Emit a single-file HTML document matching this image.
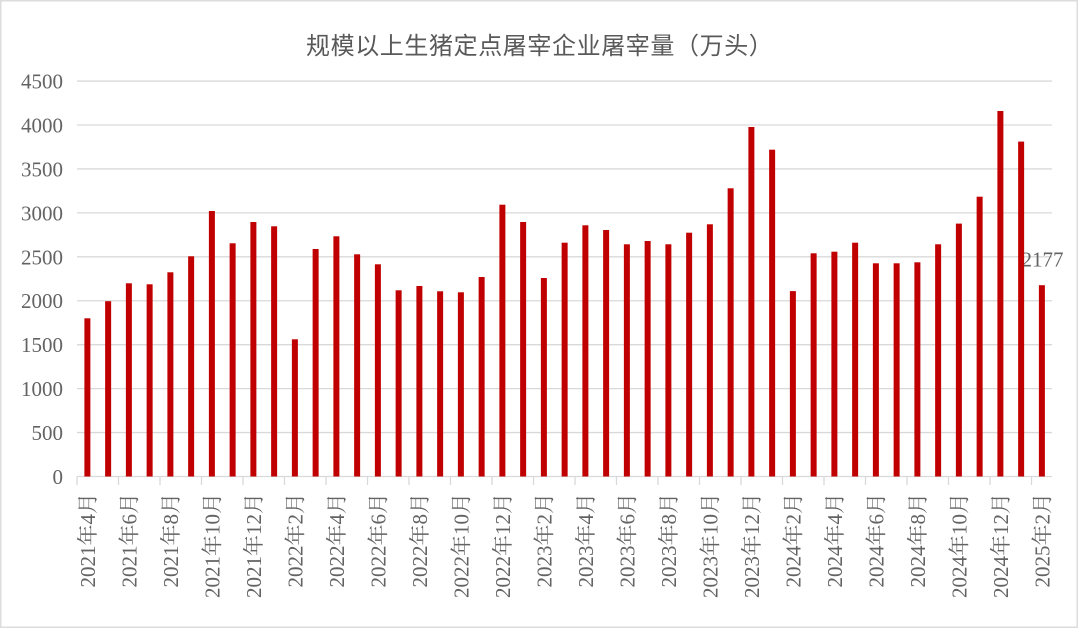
<!DOCTYPE html>
<html><head><meta charset="utf-8"><style>
html,body{margin:0;padding:0;background:#fff;}
svg{display:block;}
.ax{font-family:"Liberation Serif","Noto Serif CJK SC",serif;font-size:21px;fill:#636363;}
.tt{font-family:"Liberation Sans","Noto Sans CJK SC",sans-serif;font-size:24px;fill:#595959;letter-spacing:0.6px;}
</style></head><body>
<svg width="1080" height="629" viewBox="0 0 1080 629" xmlns="http://www.w3.org/2000/svg">
<rect x="0" y="0" width="1080" height="629" fill="#fff"/>
<rect x="0.75" y="0.75" width="1076.5" height="626.5" fill="none" stroke="#dcdcdc" stroke-width="1.5"/>
<text class="tt" x="306" y="54">规模以上生猪定点屠宰企业屠宰量（万头）</text>
<g stroke="#d9d9d9" stroke-width="1.3">
<line x1="77" x2="1052" y1="81.04" y2="81.04"/>
<line x1="77" x2="1052" y1="124.98" y2="124.98"/>
<line x1="77" x2="1052" y1="168.92" y2="168.92"/>
<line x1="77" x2="1052" y1="212.86" y2="212.86"/>
<line x1="77" x2="1052" y1="256.8" y2="256.8"/>
<line x1="77" x2="1052" y1="300.74" y2="300.74"/>
<line x1="77" x2="1052" y1="344.68" y2="344.68"/>
<line x1="77" x2="1052" y1="388.62" y2="388.62"/>
<line x1="77" x2="1052" y1="432.56" y2="432.56"/>
<line x1="77" x2="1052" y1="476.5" y2="476.5"/>
<path d="M77 476.5V485M118.5 476.5V485M160 476.5V485M201.5 476.5V485M243 476.5V485M284.5 476.5V485M326 476.5V485M367.5 476.5V485M409 476.5V485M450.5 476.5V485M492 476.5V485M533.5 476.5V485M575 476.5V485M616.5 476.5V485M658 476.5V485M699.5 476.5V485M741 476.5V485M782.5 476.5V485M824 476.5V485M865.5 476.5V485M907 476.5V485M948.5 476.5V485M990 476.5V485M1031.5 476.5V485"/>
</g>
<g class="ax" text-anchor="end">
<text x="63" y="88.5">4500</text>
<text x="63" y="132.5">4000</text>
<text x="63" y="176.4">3500</text>
<text x="63" y="220.4">3000</text>
<text x="63" y="264.3">2500</text>
<text x="63" y="308.2">2000</text>
<text x="63" y="352.2">1500</text>
<text x="63" y="396.1">1000</text>
<text x="63" y="440.1">500</text>
<text x="63" y="484">0</text>
</g>
<text class="ax" x="1042.5" y="266.5" text-anchor="middle">2177</text>
<g fill="#c00000">
<rect x="84.38" y="318.3" width="6" height="158.2"/>
<rect x="105.13" y="301.2" width="6" height="175.3"/>
<rect x="125.88" y="283.3" width="6" height="193.2"/>
<rect x="146.63" y="284.3" width="6" height="192.2"/>
<rect x="167.38" y="272.3" width="6" height="204.2"/>
<rect x="188.13" y="256.3" width="6" height="220.2"/>
<rect x="208.88" y="211.0" width="6" height="265.5"/>
<rect x="229.63" y="243.3" width="6" height="233.2"/>
<rect x="250.38" y="222.0" width="6" height="254.5"/>
<rect x="271.13" y="226.3" width="6" height="250.2"/>
<rect x="291.88" y="339.3" width="6" height="137.2"/>
<rect x="312.63" y="249.0" width="6" height="227.5"/>
<rect x="333.38" y="236.3" width="6" height="240.2"/>
<rect x="354.13" y="254.3" width="6" height="222.2"/>
<rect x="374.88" y="264.3" width="6" height="212.2"/>
<rect x="395.63" y="290.3" width="6" height="186.2"/>
<rect x="416.38" y="286.0" width="6" height="190.5"/>
<rect x="437.13" y="291.3" width="6" height="185.2"/>
<rect x="457.88" y="292.3" width="6" height="184.2"/>
<rect x="478.63" y="277.0" width="6" height="199.5"/>
<rect x="499.38" y="204.7" width="6" height="271.8"/>
<rect x="520.13" y="222.0" width="6" height="254.5"/>
<rect x="540.88" y="278.0" width="6" height="198.5"/>
<rect x="561.63" y="242.7" width="6" height="233.8"/>
<rect x="582.38" y="225.3" width="6" height="251.2"/>
<rect x="603.13" y="230.0" width="6" height="246.5"/>
<rect x="623.88" y="244.3" width="6" height="232.2"/>
<rect x="644.63" y="241.0" width="6" height="235.5"/>
<rect x="665.38" y="244.3" width="6" height="232.2"/>
<rect x="686.13" y="232.7" width="6" height="243.8"/>
<rect x="706.88" y="224.3" width="6" height="252.2"/>
<rect x="727.63" y="188.3" width="6" height="288.2"/>
<rect x="748.38" y="127.0" width="6" height="349.5"/>
<rect x="769.13" y="149.7" width="6" height="326.8"/>
<rect x="789.88" y="291.1" width="6" height="185.4"/>
<rect x="810.63" y="253.3" width="6" height="223.2"/>
<rect x="831.38" y="251.7" width="6" height="224.8"/>
<rect x="852.13" y="242.7" width="6" height="233.8"/>
<rect x="872.88" y="263.3" width="6" height="213.2"/>
<rect x="893.63" y="263.3" width="6" height="213.2"/>
<rect x="914.38" y="262.3" width="6" height="214.2"/>
<rect x="935.13" y="244.3" width="6" height="232.2"/>
<rect x="955.88" y="223.6" width="6" height="252.9"/>
<rect x="976.63" y="196.7" width="6" height="279.8"/>
<rect x="997.38" y="111.0" width="6" height="365.5"/>
<rect x="1018.13" y="141.6" width="6" height="334.9"/>
<rect x="1038.88" y="285.2" width="6" height="191.3"/>
</g>
<g class="ax" text-anchor="end">
<text transform="translate(94.98,493) rotate(-90)">2021年4月</text>
<text transform="translate(136.48,493) rotate(-90)">2021年6月</text>
<text transform="translate(177.98,493) rotate(-90)">2021年8月</text>
<text transform="translate(219.48,493) rotate(-90)">2021年10月</text>
<text transform="translate(260.98,493) rotate(-90)">2021年12月</text>
<text transform="translate(302.48,493) rotate(-90)">2022年2月</text>
<text transform="translate(343.98,493) rotate(-90)">2022年4月</text>
<text transform="translate(385.48,493) rotate(-90)">2022年6月</text>
<text transform="translate(426.98,493) rotate(-90)">2022年8月</text>
<text transform="translate(468.48,493) rotate(-90)">2022年10月</text>
<text transform="translate(509.98,493) rotate(-90)">2022年12月</text>
<text transform="translate(551.48,493) rotate(-90)">2023年2月</text>
<text transform="translate(592.98,493) rotate(-90)">2023年4月</text>
<text transform="translate(634.48,493) rotate(-90)">2023年6月</text>
<text transform="translate(675.98,493) rotate(-90)">2023年8月</text>
<text transform="translate(717.48,493) rotate(-90)">2023年10月</text>
<text transform="translate(758.98,493) rotate(-90)">2023年12月</text>
<text transform="translate(800.48,493) rotate(-90)">2024年2月</text>
<text transform="translate(841.98,493) rotate(-90)">2024年4月</text>
<text transform="translate(883.48,493) rotate(-90)">2024年6月</text>
<text transform="translate(924.98,493) rotate(-90)">2024年8月</text>
<text transform="translate(966.48,493) rotate(-90)">2024年10月</text>
<text transform="translate(1007.98,493) rotate(-90)">2024年12月</text>
<text transform="translate(1049.48,493) rotate(-90)">2025年2月</text>
</g>
</svg>
</body></html>
